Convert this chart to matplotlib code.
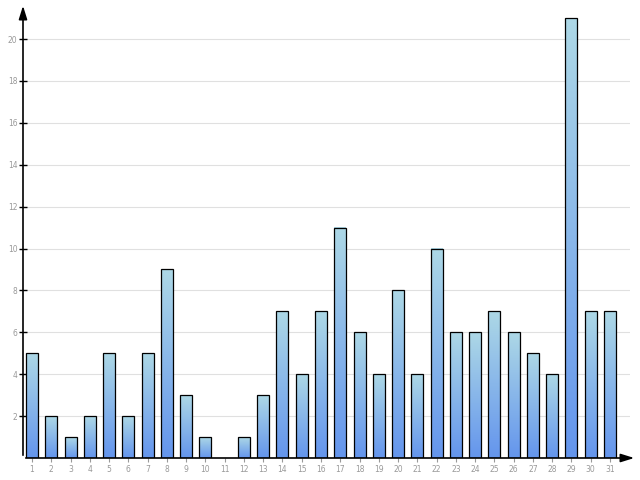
import matplotlib
matplotlib.use("Agg")
import matplotlib.pyplot as plt
import numpy as np
from matplotlib.colors import LinearSegmentedColormap

days = list(range(1, 32))
values = [5, 2, 1, 2, 5, 2, 5, 9, 3, 1, 0, 1, 3, 7, 4, 7, 11, 6, 4, 8, 4, 10, 6, 6, 7, 6, 5, 4, 21, 7, 7]
yticks = [2, 4, 6, 8, 10, 12, 14, 16, 18, 20]

W, H = 640, 480
fig = plt.figure(figsize=(6.4, 4.8), dpi=100)
left, right, bottom, top = 23, 630, 458, 5
ax = fig.add_axes([left / W, (H - bottom) / H, (right - left) / W, (bottom - top) / H])

spacing = 19.27
x0 = 1 - (32 - left) / spacing
x1 = 31 + (right - 610) / spacing
ymax = (bottom - top) / 20.95

cmap = LinearSegmentedColormap.from_list("g", ["#6495ed", "#add8e6"])
grad = np.linspace(0, 1, 256).reshape(-1, 1)
bw = 0.62
for d, v in zip(days, values):
    if v <= 0:
        continue
    ax.imshow(grad, cmap=cmap, origin="lower", aspect="auto",
              extent=(d - bw / 2, d + bw / 2, 0, v), zorder=2, interpolation="bilinear")
    ax.bar(d, v, width=bw, facecolor="none", edgecolor="black", linewidth=0.9, zorder=3)
ax.set_xlim(x0, x1)
ax.set_ylim(0, ymax)

for t in yticks:
    ax.axhline(t, color="#e0e0e0", linewidth=0.8, zorder=1)

for s in ["top", "right", "left", "bottom"]:
    ax.spines[s].set_visible(False)

ax.set_yticks(yticks)
ax.set_yticklabels([str(t) for t in yticks], color="#999999", fontsize=5.5)
ax.set_xticks(days)
ax.set_xticklabels([str(d) for d in days], color="#999999", fontsize=5.5)
ax.tick_params(axis="y", direction="inout", length=6, width=1, color="black", pad=1)
ax.tick_params(axis="x", direction="out", length=3, width=0.8, color="#999999", pad=2)

ax.annotate("", xy=(637 / W, (H - bottom) / H), xytext=(left / W, (H - bottom) / H),
            xycoords="figure fraction", textcoords="figure fraction",
            arrowprops=dict(arrowstyle="-|>,head_length=0.8,head_width=0.25", color="black", lw=1.2))
ax.annotate("", xy=(left / W, (H - 3) / H), xytext=(left / W, (H - bottom) / H),
            xycoords="figure fraction", textcoords="figure fraction",
            arrowprops=dict(arrowstyle="-|>,head_length=0.8,head_width=0.25", color="black", lw=1.2))

fig.savefig("out.png", dpi=100)
